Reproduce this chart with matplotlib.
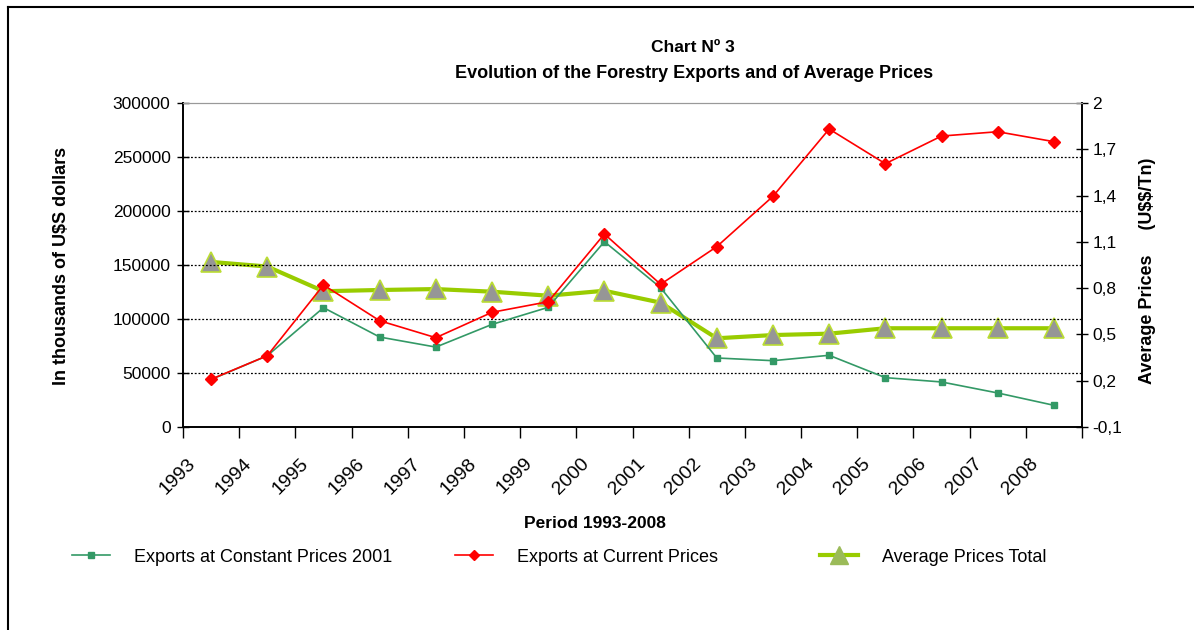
import matplotlib
matplotlib.use("Agg")
import matplotlib.pyplot as plt
import matplotlib.transforms as mtransforms
from matplotlib.lines import Line2D
from matplotlib.ticker import FuncFormatter
import numpy as np

plt.rcParams['font.family'] = ['Liberation Sans', 'DejaVu Sans']
plt.rcParams['text.parse_math'] = False

years = ['1993', '1994', '1995', '1996', '1997', '1998', '1999', '2000',
         '2001', '2002', '2003', '2004', '2005', '2006', '2007', '2008']
constant_prices = [44000, 66000, 110500, 83300, 74000, 95000, 110800, 171600,
                   129000, 63900, 61400, 66400, 45700, 41700, 31500, 20100]
current_prices = [44200, 66000, 131500, 98400, 82700, 106200, 116000, 178700,
                  132100, 167000, 213600, 275900, 243800, 269400, 273400, 264200]
avg_prices = [0.97, 0.94, 0.78, 0.788, 0.794, 0.777, 0.751, 0.783,
              0.706, 0.475, 0.496, 0.505, 0.54, 0.54, 0.54, 0.54]

W, H = 1194, 630
fig = plt.figure(figsize=(W / 100, H / 100), dpi=100)
ax = fig.add_axes([183 / W, 1 - 427 / H, (1082 - 183) / W, (427 - 103) / H])
ax2 = ax.twinx()

x = np.arange(len(years))

ax.plot(x, constant_prices, color='#339966', lw=1.2, marker='s', ms=4.5,
        zorder=3)
ax.plot(x, current_prices, color='#ff0000', lw=1.2, marker='D', ms=6.5,
        zorder=4)
ax2.plot(x, avg_prices, color='#99cc00', lw=3, marker='^', ms=14,
         markerfacecolor='#969696', markeredgecolor='#bbdd33', markeredgewidth=1.2)

# left axis
ax.set_ylim(0, 300000)
ax.set_yticks(np.arange(0, 300001, 50000))
ax.set_xlim(-0.5, len(years) - 0.5)
for v in np.arange(50000, 300000, 50000):
    ax.axhline(v, color='black', lw=0.9, ls=(0, (1.5, 1.5)), zorder=1)
ax.tick_params(axis='y', direction='inout', length=8, width=1, labelsize=12.5, pad=5)
ax.tick_params(axis='x', which='major', direction='out', length=8, width=1,
               labelbottom=False)
ax.set_xticks(np.arange(-0.5, len(years), 1))
ax.set_xticks(x, minor=True)
ax.set_xticklabels(years, minor=True, rotation=45, ha='right',
                   rotation_mode='anchor', fontsize=14)
ax.tick_params(axis='x', which='minor', length=0, pad=20)
offset = mtransforms.ScaledTranslation(-0.24, 0, fig.dpi_scale_trans)
for lab in ax.get_xticklabels(minor=True):
    lab.set_transform(lab.get_transform() + offset)

# right axis
ax2.set_ylim(-0.1, 2.0)
ax2.set_yticks(np.round(np.arange(-0.1, 2.01, 0.3), 1))
ax2.yaxis.set_major_formatter(FuncFormatter(lambda v, p: ('%g' % round(v, 1)).replace('.', ',')))
ax2.tick_params(axis='y', direction='inout', length=8, width=1, labelsize=12.5)

for a in (ax, ax2):
    a.spines['top'].set_color('#999999')
    a.spines['left'].set_linewidth(1.2)
    a.spines['right'].set_linewidth(1.2)
    a.spines['bottom'].set_linewidth(1.2)
ax.set_zorder(ax2.get_zorder() + 1)
ax.patch.set_visible(False)

# titles and labels
fig.text(693 / W, 1 - 47 / H, 'Chart Nº 3', ha='center', va='center',
         fontsize=12.5, fontweight='bold')
fig.text(694 / W, 1 - 73 / H, 'Evolution of the Forestry Exports and of Average Prices',
         ha='center', va='center', fontsize=13, fontweight='bold')
fig.text(62 / W, 1 - 266 / H, 'In thousands of U$S dollars', rotation=90,
         ha='center', va='center', fontsize=13, fontweight='bold')
fig.text(1148 / W, 1 - 271 / H, 'Average Prices     (U$$/Tn)', rotation=90,
         ha='center', va='center', fontsize=13, fontweight='bold')
fig.text(595 / W, 1 - 523 / H, 'Period 1993-2008', ha='center', va='center',
         fontsize=12.5, fontweight='bold')

# legend
handles = [
    Line2D([], [], color='#339966', lw=1.2, marker='s', ms=4.5),
    Line2D([], [], color='#ff0000', lw=1.2, marker='D', ms=5),
    Line2D([], [], color='#99cc00', lw=3, marker='^', ms=13,
           markerfacecolor='#9bbb59', markeredgecolor='#9bbb59'),
]
labels = ['Exports at Constant Prices 2001', 'Exports at Current Prices',
          'Average Prices Total']
starts = [72, 455, 820]
for h, l, s in zip(handles, labels, starts):
    fig.legend([h], [l], loc='center left', bbox_to_anchor=(s / W, 1 - 557 / H),
               frameon=False, fontsize=13, handlelength=2.1, handletextpad=1.35,
               borderpad=0, borderaxespad=0)

# outer frame
fig.add_artist(Line2D([8 / W, 8 / W], [0, 1 - 7 / H], color='black', lw=1.5,
                      transform=fig.transFigure))
fig.add_artist(Line2D([8 / W, 1], [1 - 7 / H, 1 - 7 / H], color='black', lw=1.5,
                      transform=fig.transFigure))

fig.savefig('out.png', dpi=100)
